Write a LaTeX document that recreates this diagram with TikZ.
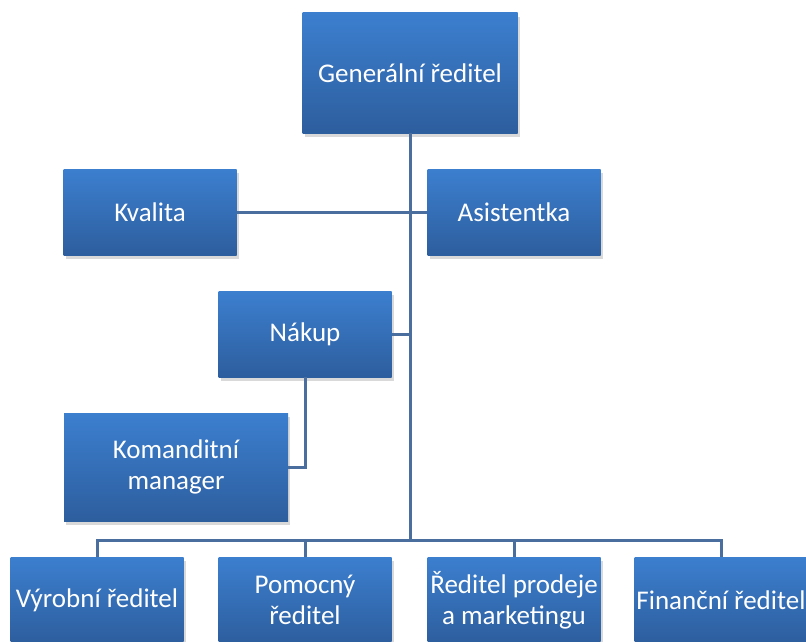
\documentclass[tikz,border=0pt]{standalone}
\usepackage{fontspec}
\setmainfont{Carlito}
\usetikzlibrary{shadows}
\definecolor{boxtop}{HTML}{3C7FCF}
\definecolor{boxbot}{HTML}{2D5E9E}
\definecolor{linka}{HTML}{4A6E9E}

\begin{document}
\begin{tikzpicture}[x=1pt,y=-1pt,
  box/.style={top color=boxtop,bottom color=boxbot,text=white,align=center,inner sep=0pt,
    minimum width=173pt,minimum height=86pt,font=\fontsize{27}{31}\selectfont,
    drop shadow={shadow xshift=2pt,shadow yshift=-4pt,opacity=0.3}},
  spoj/.style={draw=linka,line width=3pt}]
\clip (0,0) rectangle (806,642);
\node[box,minimum width=215pt,minimum height=120pt] (gr) at (410,73) {Generální ředitel};
\node[box] (kval) at (150,212) {Kvalita};
\node[box] (asis) at (514,212) {Asistentka};
\node[box] (nak) at (305,334) {Nákup};
\node[box,minimum width=224pt,minimum height=108pt] (kom) at (176,467) {Komanditní\\manager};
\node[box] (vyr) at (97,600) {Výrobní ředitel};
\node[box] (pom) at (305,600) {Pomocný\\ředitel};
\node[box] (prod) at (514,600) {Ředitel prodeje\\a marketingu};
\node[box] (fin) at (721,600) {Finanční ředitel};
\coordinate (bus) at (410,540);
\draw[spoj] (gr.south) -- (bus);
\draw[spoj] (kval.east) -- (asis.west);
\draw[spoj] (nak.east) -- (nak.east -| gr.south);
\draw[spoj] (nak.south) |- (kom.east);
\foreach \n in {vyr,pom,prod,fin}
  \draw[spoj] (bus) -| (\n.north);
\end{tikzpicture}
\end{document}
